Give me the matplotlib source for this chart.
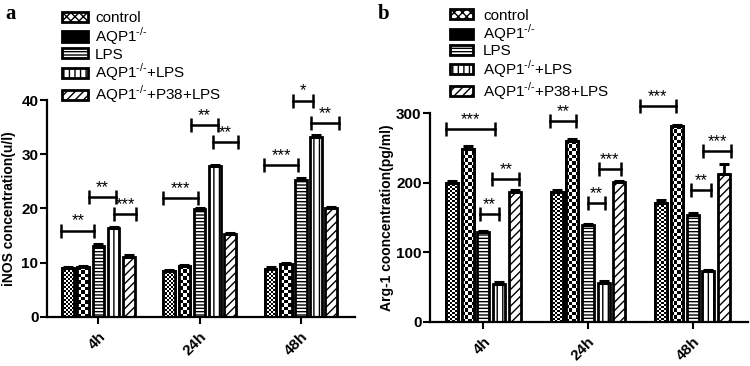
import numpy as np
import matplotlib
matplotlib.use('Agg')
import matplotlib.pyplot as plt

plt.rcParams['font.family'] = ['Liberation Sans', 'DejaVu Sans']
plt.rcParams['mathtext.fontset'] = 'custom'
plt.rcParams['mathtext.rm'] = 'Liberation Sans'
plt.rcParams['hatch.linewidth'] = 1.0

# groups and series
times = ['4h', '24h', '48h']
labels = ['control', 'AQP1$^{\\text{-/-}}$', 'LPS', 'AQP1$^{\\text{-/-}}$+LPS',
          'AQP1$^{\\text{-/-}}$+P38+LPS']

# panel a: iNOS (u/l)
inos_control = [9.0, 8.5, 8.8]
inos_aqp1 = [9.2, 9.4, 9.8]
inos_lps = [13.1, 19.8, 25.3]
inos_aqp1_lps = [16.3, 27.8, 33.1]
inos_p38 = [11.1, 15.3, 20.1]
inos_err_control = [0.2, 0.2, 0.3]
inos_err_aqp1 = [0.2, 0.2, 0.2]
inos_err_lps = [0.3, 0.3, 0.3]
inos_err_aqp1_lps = [0.2, 0.2, 0.5]
inos_err_p38 = [0.2, 0.2, 0.2]

# panel b: Arg-1 (pg/ml)
arg_control = [200, 186, 170]
arg_aqp1 = [249, 260, 281]
arg_lps = [129, 139, 154]
arg_aqp1_lps = [54, 56, 73]
arg_p38 = [187, 201, 212]
arg_err_control = [3, 3, 5]
arg_err_aqp1 = [4, 3, 2]
arg_err_lps = [2, 2, 2]
arg_err_aqp1_lps = [3, 2, 2]
arg_err_p38 = [2, 2, 15]

# significance brackets: group, start, end (in bar steps from group centre), height, stars
inos_sig_group = [0, 0, 0, 1, 1, 1, 2, 2, 2]
inos_sig_start = [-2.45, -0.63, 1.05, -2.4, -0.54, 0.85, -2.4, -0.54, 0.65]
inos_sig_end = [-0.26, 1.18, 2.48, -0.13, 1.18, 2.52, -0.22, 0.81, 2.5]
inos_sig_y = [15.9, 22.1, 19.0, 21.9, 35.4, 32.2, 28.0, 39.9, 35.7]
inos_sig_text = ['**', '**', '***', '***', '**', '**', '***', '*', '**']

arg_sig_group = [0, 0, 0, 1, 1, 1, 2, 2, 2]
arg_sig_start = [-2.41, -0.21, 0.58, -2.39, -0.02, 0.69, -3.35, -0.08, 0.64]
arg_sig_end = [0.73, 1.0, 2.29, -0.73, 1.09, 2.1, -1.07, 1.18, 2.48]
arg_sig_y = [277, 155, 204.6, 288, 170.8, 219.5, 309.7, 189, 245.6]
arg_sig_text = ['***', '**', '**', '**', '**', '***', '***', '**', '***']

step = 0.15
width = 0.115
hatches = ['xxxx', '', '-----', '|||', '////']
faces = ['white', 'black', 'white', 'white', 'white']
checker_cell = [2.0, 3.4, None, None, None]  # px size of checker squares


def checker_fill(ax, bar, cell):
    # fill a bar with a black/white checkerboard clipped to the bar
    x, y = bar.get_x(), bar.get_y()
    w, h = bar.get_width(), bar.get_height()
    p0 = ax.transData.transform((x, y))
    p1 = ax.transData.transform((x + w, y + h))
    nc = max(1, int(round((p1[0] - p0[0]) / cell)))
    nr = max(1, int(round((p1[1] - p0[1]) / cell)))
    ii, jj = np.indices((nr, nc))
    img = (ii + jj) % 2
    im = ax.imshow(img, extent=[x, x + w, y, y + h], cmap='gray', vmin=0, vmax=1,
                   interpolation='nearest', aspect='auto', zorder=2)
    im.set_clip_path(bar)


def panel(ax, series, errs, ylim, yticks, ylabel, sig):
    ax.set_xlim(-0.51, 2.53)
    ax.set_ylim(*ylim)
    x = np.arange(len(times))
    handles = []
    for i, (vals, err) in enumerate(zip(series, errs)):
        xs = x + (i - 2) * step
        bars = ax.bar(xs, vals, width, color=faces[i], edgecolor='black',
                      hatch=hatches[i], linewidth=2, zorder=1, label=labels[i])
        handles.append(bars)
        if checker_cell[i] is not None:
            for b in bars:
                checker_fill(ax, b, checker_cell[i])
            ax.bar(xs, vals, width, fill=False, edgecolor='black', linewidth=2, zorder=3)
        ax.errorbar(xs, vals, yerr=[np.zeros(len(err)), err], fmt='none', ecolor='black',
                    elinewidth=2, capsize=3.5, capthick=2.2, zorder=4)
    ax.set_xlim(-0.51, 2.53)
    ax.set_ylim(*ylim)

    # significance brackets
    g, s, e, y, t = sig
    for k in range(len(g)):
        x0 = g[k] + s[k] * step
        x1 = g[k] + e[k] * step
        ax.plot([x0, x1], [y[k], y[k]], color='black', lw=1.8, marker='|',
                markersize=10, mew=1.8, clip_on=False, zorder=5)
        ax.annotate(t[k], ((x0 + x1) / 2, y[k]), xytext=(0, 1.5), textcoords='offset points',
                    ha='center', va='bottom', fontsize=12, annotation_clip=False)

    ax.set_xticks(x)
    ax.set_xticklabels(times, rotation=45, ha='right', va='top', rotation_mode='anchor',
                       fontsize=11, fontweight='bold')
    ax.set_yticks(yticks)
    ax.set_yticklabels([str(v) for v in yticks], fontsize=11, fontweight='bold')
    ax.tick_params(axis='both', width=1.5, length=5, direction='out')
    ax.tick_params(axis='x', pad=4)
    ax.tick_params(axis='y', pad=1)
    for side in ['top', 'right']:
        ax.spines[side].set_visible(False)
    for side in ['left', 'bottom']:
        ax.spines[side].set_linewidth(1.6)
    ax.set_ylabel(ylabel, fontsize=10, fontweight='bold')
    return handles


fig = plt.figure(figsize=(7.5, 3.66), dpi=100)
ax1 = fig.add_axes([0.0623, 0.1347, 0.4105, 0.592])
ax2 = fig.add_axes([0.5733, 0.121, 0.424, 0.570])

h1 = panel(ax1,
           [inos_control, inos_aqp1, inos_lps, inos_aqp1_lps, inos_p38],
           [inos_err_control, inos_err_aqp1, inos_err_lps, inos_err_aqp1_lps, inos_err_p38],
           (0, 40), [0, 10, 20, 30, 40], 'iNOS concentration(u/l)',
           (inos_sig_group, inos_sig_start, inos_sig_end, inos_sig_y, inos_sig_text))
h2 = panel(ax2,
           [arg_control, arg_aqp1, arg_lps, arg_aqp1_lps, arg_p38],
           [arg_err_control, arg_err_aqp1, arg_err_lps, arg_err_aqp1_lps, arg_err_p38],
           (0, 300), [0, 100, 200, 300], 'Arg-1 cooncentration(pg/ml)',
           (arg_sig_group, arg_sig_start, arg_sig_end, arg_sig_y, arg_sig_text))
ax1.yaxis.set_label_coords(-0.10, 0.5)
ax2.yaxis.set_label_coords(-0.113, 0.5)

# legends sit above the plot area
fig.legend(handles=h1, labels=labels, loc='upper left', bbox_to_anchor=(0.073, 0.99),
           frameon=False, fontsize=11, handlelength=1.65, handleheight=0.65,
           handletextpad=0.5, labelspacing=0.02, borderpad=0)
fig.legend(handles=h2, labels=labels, loc='upper left', bbox_to_anchor=(0.59, 0.997),
           frameon=False, fontsize=11, handlelength=1.5, handleheight=0.65,
           handletextpad=0.65, labelspacing=0.0, borderpad=0)

fig.text(0.007, 0.99, 'a', fontsize=15, fontweight='bold', family='Liberation Serif', va='top')
fig.text(0.504, 0.99, 'b', fontsize=15, fontweight='bold', family='Liberation Serif', va='top')

plt.savefig('out.png', dpi=100)
